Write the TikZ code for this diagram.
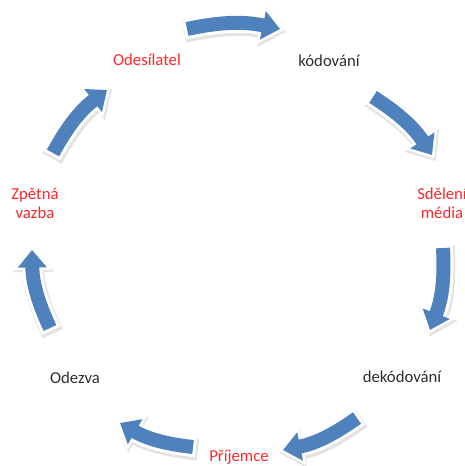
\documentclass[tikz,border=0pt]{standalone}
\usepackage{fontspec}
\setmainfont{Carlito}
\usepackage{xcolor}
\usetikzlibrary{arrows.meta,positioning}

\definecolor{cycblue}{RGB}{79,129,189}
\definecolor{cycred}{RGB}{255,40,40}
\definecolor{cyctext}{RGB}{45,45,45}

\tikzset{
  lbl/.style={font=\fontsize{9.5}{10.8}\selectfont, text=cyctext, align=center, inner sep=0pt},
  lblred/.style={lbl, text=cycred},
  cycarrow/.style={draw=cycblue, line width=0.28cm, -{Triangle[width=0.56cm,length=0.35cm]},
    preaction={draw=black!11, line width=0.44cm, shorten >=-0.10cm, shorten <=-0.08cm,
      -{Triangle[width=0.80cm,length=0.50cm]}, transform canvas={shift={(0.02cm,-0.04cm)}}},
    preaction={draw=white, line width=0.40cm, shorten >=-0.09cm, shorten <=-0.06cm,
      -{Triangle[width=0.76cm,length=0.49cm]}}},
}

\begin{document}
\begin{tikzpicture}[x=0.02cm,y=0.02cm]
\useasboundingbox (0,0) rectangle (465,466);
\clip (0,0) rectangle (465,466);

% Labels of the cycle
\node[lblred] (odes)  at (147,406) {Odesílatel};
\node[lbl]    (kod)   at (329,405) {kódování};
\node[lblred] (sdel)  at (442,263) {Sdělení\\média};
\node[lbl]    (dekod) at (402,89)  {dekódování};
\node[lblred] (prij)  at (239,9)   {Příjemce};
\node[lbl]    (odez)  at (75,88)   {Odezva};
\node[lblred] (zpet)  at (35,263)  {Zpětná\\vazba};

% Arrow ends (tail / tip)
\coordinate (s1) at (187,437); \coordinate (e1) at (280,437);
\coordinate (s2) at (373,369); \coordinate (e2) at (432,311);
\coordinate (s3) at (443,218); \coordinate (e3) at (430,136);
\coordinate (s4) at (357,48);  \coordinate (e4) at (283,16);
\coordinate (s5) at (193,19);  \coordinate (e5) at (120,43);
\coordinate (s6) at (50,138);  \coordinate (e6) at (32,216);
\coordinate (s7) at (53,313);  \coordinate (e7) at (107,376);

% Curved arrows
\foreach \i in {1,...,7}
  \draw[cycarrow] (s\i) to[bend left=12] (e\i);
\end{tikzpicture}
\end{document}
